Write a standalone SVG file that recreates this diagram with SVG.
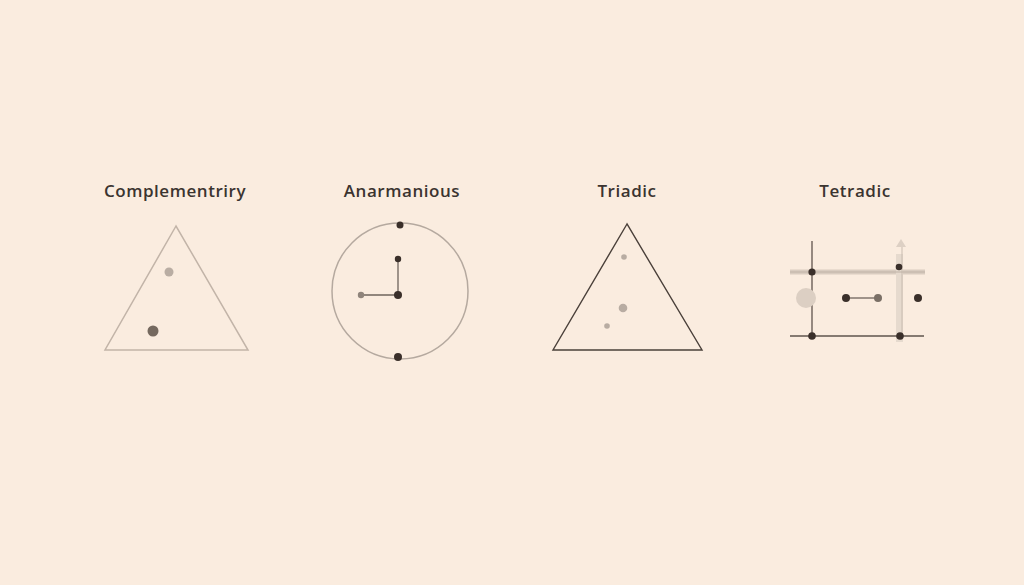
<svg xmlns="http://www.w3.org/2000/svg" width="1024" height="585" viewBox="0 0 1024 585">
<style>
.t{font-family:"Open Sans","Noto Sans",sans-serif;font-size:17px;font-weight:600;fill:#3b3430;text-anchor:middle;letter-spacing:0.55px}
.dk{fill:#3a2f2a}
</style>
<rect width="1024" height="585" fill="#faecdf"/>
<g id="complementary">
<text class="t" x="175" y="197">Complementriry</text>
<polygon points="176,226 105,350 248,350" fill="none" stroke="#c2b4a8" stroke-width="1.5"/>
<circle cx="169" cy="272" r="4.5" fill="#b9ada3"/>
<circle cx="153" cy="331" r="5.5" fill="#75695f"/>
</g>
<g id="analogous">
<text class="t" x="402" y="197">Anarmanious</text>
<circle cx="400" cy="291" r="68" fill="none" stroke="#b5a99f" stroke-width="1.5"/>
<line x1="398" y1="259" x2="398" y2="295" stroke="#6e645c" stroke-width="1.3"/>
<line x1="361" y1="295" x2="398" y2="295" stroke="#6e645c" stroke-width="1.5"/>
<circle cx="400" cy="225" r="3.5" class="dk"/>
<circle cx="398" cy="259" r="3.2" class="dk"/>
<circle cx="398" cy="295" r="4" class="dk"/>
<circle cx="361" cy="295" r="3.2" fill="#8f847b"/>
<circle cx="398" cy="357" r="4" class="dk"/>
</g>
<g id="triadic">
<text class="t" x="627" y="197">Triadic</text>
<polygon points="627,224 553,350 702,350" fill="none" stroke="#4a403a" stroke-width="1.4"/>
<circle cx="624" cy="257" r="2.8" fill="#b8aca2"/>
<circle cx="623" cy="308" r="4.3" fill="#b8aca2"/>
<circle cx="607" cy="326" r="2.8" fill="#b8aca2"/>
</g>
<g id="tetradic">
<text class="t" x="855" y="197">Tetradic</text>
<rect x="790" y="269.5" width="135" height="5" fill="#d9ccc0"/>
<rect x="896" y="254" width="7" height="88" fill="#e6dace"/>
<polygon points="901,239 896,247 906,247" fill="#ddd0c4"/>
<line x1="902" y1="247" x2="902" y2="340" stroke="#c9bcb0" stroke-width="1"/>
<line x1="812" y1="241" x2="812" y2="337" stroke="#6a5f57" stroke-width="1.4"/>
<line x1="790" y1="272" x2="925" y2="272" stroke="#bfb2a6" stroke-width="1"/>
<line x1="790" y1="336" x2="924" y2="336" stroke="#5e544c" stroke-width="1.3"/>
<circle cx="806" cy="298" r="10" fill="#dccfc3"/>
<line x1="846" y1="298" x2="878" y2="298" stroke="#6e645c" stroke-width="1.3"/>
<circle cx="812" cy="272" r="3.6" class="dk"/>
<circle cx="899" cy="267" r="3.3" class="dk"/>
<circle cx="812" cy="336" r="3.8" class="dk"/>
<circle cx="900" cy="336" r="3.8" class="dk"/>
<circle cx="846" cy="298" r="4" class="dk"/>
<circle cx="878" cy="298" r="4" fill="#7a6f66"/>
<circle cx="918" cy="298" r="4" class="dk"/>
</g>
</svg>
